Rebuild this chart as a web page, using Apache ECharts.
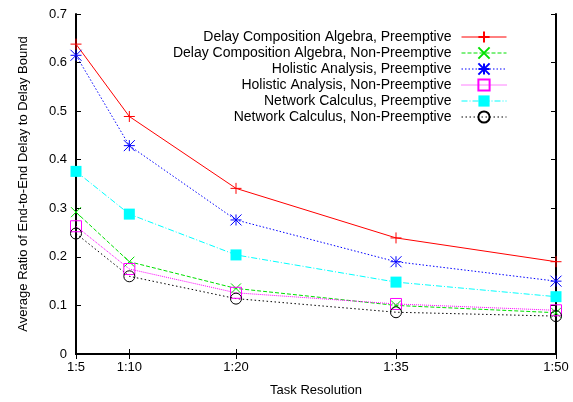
<!DOCTYPE html>
<html>
<head>
<meta charset="utf-8">
<script src="https://cdn.jsdelivr.net/npm/echarts@6/dist/echarts.min.js"></script>
<style>
  html, body { margin: 0; padding: 0; background: #fff; }
  #chart { width: 573px; height: 402px; }
</style>
</head>
<body>
<div id="chart"></div>
<script>
// task resolution (1:N)
const resolutions = [5, 10, 20, 35, 50]

const dcaPreemptive = [0.638, 0.489, 0.341, 0.239, 0.19]
const dcaNonPreemptive = [0.292, 0.19, 0.135, 0.1, 0.085]
const holisticPreemptive = [0.615, 0.429, 0.276, 0.19, 0.15]
const holisticNonPreemptive = [0.263, 0.175, 0.126, 0.103, 0.09]
const ncPreemptive = [0.376, 0.288, 0.204, 0.148, 0.118]
const ncNonPreemptive = [0.248, 0.16, 0.114, 0.086, 0.078]

const yTicks = [0, 0.1, 0.2, 0.3, 0.4, 0.5, 0.6, 0.7]

const FONT = 'Liberation Sans, Arial, Helvetica, sans-serif'

// gnuplot-ish point shapes (outlines only, the line shows through)
const plusSym = 'path://M0,5L10,5M5,0L5,10'
const crossSym = 'path://M0,0L10,10M0,10L10,0'
const starSym = 'path://M0,5L10,5M5,0L5,10M0,0L10,10M0,10L10,0'
const boxSym = 'path://M0,0L10,0L10,10L0,10Z'
const circleSym = 'path://M10,5A5,5,0,1,1,0,5A5,5,0,1,1,10,5Z'

const pairs = ys => resolutions.map((x, i) => [x, ys[i]])

const makeSeries = (name, ys, color, symbol, size, lineType, filled) => ({
  name,
  type: 'line',
  data: pairs(ys),
  symbol,
  symbolSize: size,
  symbolKeepAspect: true,
  showAllSymbol: true,
  lineStyle: { color, width: 1, type: lineType },
  itemStyle: {
    color: filled ? color : 'rgba(0,0,0,0)',
    borderColor: color,
    borderWidth: filled ? 0 : 1
  },
  emphasis: { disabled: true },
  animation: false
})

const chart = echarts.init(document.getElementById('chart'))

const axisLine = { show: true, lineStyle: { color: '#000', width: 2 } }

chart.setOption({
  backgroundColor: '#fff',
  grid: { left: 76, right: 17, top: 14, bottom: 46 },
  legend: {
    orient: 'vertical',
    align: 'right',
    right: 61,
    top: 24,
    itemWidth: 45,
    itemHeight: 14,
    itemGap: 0,
    lineStyle: { width: 1 },
    textStyle: { fontFamily: FONT, fontSize: 14, lineHeight: 16, color: '#000', padding: [0, 5, 0, 0] },
    data: [
      'Delay Composition Algebra, Preemptive',
      'Delay Composition Algebra, Non-Preemptive',
      'Holistic Analysis, Preemptive',
      'Holistic Analysis, Non-Preemptive',
      'Network Calculus, Preemptive',
      'Network Calculus, Non-Preemptive'
    ]
  },
  xAxis: [
    {
      type: 'value',
      min: 5,
      max: 50,
      name: 'Task Resolution',
      nameLocation: 'middle',
      nameGap: 30,
      nameTextStyle: { fontFamily: FONT, fontSize: 13, color: '#000' },
      axisLine,
      axisTick: { show: true, inside: true, length: 5, customValues: resolutions, lineStyle: { color: '#000' } },
      axisLabel: {
        customValues: resolutions,
        formatter: v => '1:' + v,
        fontFamily: FONT, fontSize: 13, color: '#000', margin: 7
      },
      splitLine: { show: false }
    },
    {
      type: 'value',
      position: 'top',
      min: 5,
      max: 50,
      axisLine,
      axisTick: { show: true, inside: true, length: 5, customValues: resolutions, lineStyle: { color: '#000' } },
      axisLabel: { show: false },
      splitLine: { show: false }
    }
  ],
  yAxis: [
    {
      type: 'value',
      min: 0,
      max: 0.7,
      interval: 0.1,
      name: 'Average Ratio of End-to-End Delay to Delay Bound',
      nameLocation: 'middle',
      nameGap: 46,
      nameTextStyle: { fontFamily: FONT, fontSize: 13, color: '#000' },
      axisLine,
      axisTick: { show: true, inside: true, length: 5, lineStyle: { color: '#000' } },
      axisLabel: {
        formatter: v => (yTicks.includes(+v.toFixed(1)) ? (+v.toFixed(1)).toString() : ''),
        fontFamily: FONT, fontSize: 13, color: '#000', margin: 9
      },
      splitLine: { show: false }
    },
    {
      type: 'value',
      position: 'right',
      min: 0,
      max: 0.7,
      interval: 0.1,
      axisLine,
      axisTick: { show: true, inside: true, length: 5, lineStyle: { color: '#000' } },
      axisLabel: { show: false },
      splitLine: { show: false }
    }
  ],
  series: [
    makeSeries('Delay Composition Algebra, Preemptive', dcaPreemptive, '#ff0000', plusSym, 11, 'solid', false),
    makeSeries('Delay Composition Algebra, Non-Preemptive', dcaNonPreemptive, '#00e000', crossSym, 10, [4, 2], false),
    makeSeries('Holistic Analysis, Preemptive', holisticPreemptive, '#0000ff', starSym, 11, [1.5, 2], false),
    makeSeries('Holistic Analysis, Non-Preemptive', holisticNonPreemptive, '#ff00ff', boxSym, 11, [1, 1], false),
    makeSeries('Network Calculus, Preemptive', ncPreemptive, '#00ffff', 'rect', 11, [6, 2, 1, 2], true),
    makeSeries('Network Calculus, Non-Preemptive', ncNonPreemptive, '#000000', circleSym, 11, [1.5, 2.5], false)
  ]
})
</script>
</body>
</html>
